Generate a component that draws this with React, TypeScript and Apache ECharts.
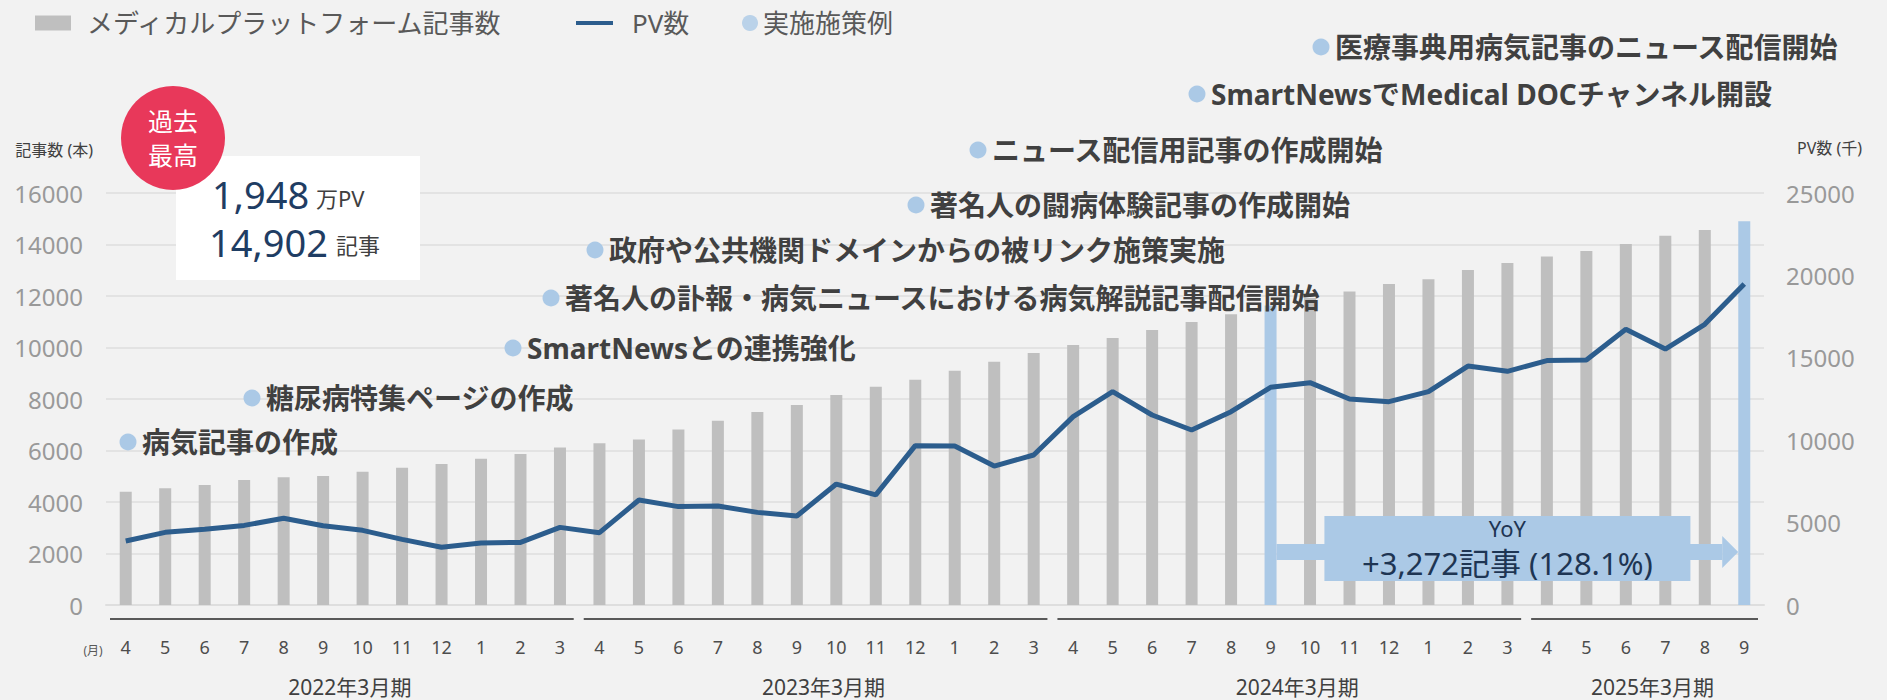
import React, { useEffect, useRef } from "react";
import * as echarts from "echarts";

// ---- data ----
const categories = [
  "2021-04", "2021-05", "2021-06", "2021-07", "2021-08", "2021-09", "2021-10", "2021-11", "2021-12", "2022-01", "2022-02", "2022-03",
  "2022-04", "2022-05", "2022-06", "2022-07", "2022-08", "2022-09", "2022-10", "2022-11", "2022-12", "2023-01", "2023-02", "2023-03",
  "2023-04", "2023-05", "2023-06", "2023-07", "2023-08", "2023-09", "2023-10", "2023-11", "2023-12", "2024-01", "2024-02", "2024-03",
  "2024-04", "2024-05", "2024-06", "2024-07", "2024-08", "2024-09",
];
const monthLabels = [
  "4", "5", "6", "7", "8", "9", "10", "11", "12", "1", "2", "3",
  "4", "5", "6", "7", "8", "9", "10", "11", "12", "1", "2", "3",
  "4", "5", "6", "7", "8", "9", "10", "11", "12", "1", "2", "3",
  "4", "5", "6", "7", "8", "9",
];
const articleCounts = [
  4400, 4530, 4660, 4850, 4960, 5010, 5170, 5330, 5480, 5680, 5860, 6120,
  6280, 6430, 6820, 7160, 7500, 7770, 8160, 8480, 8750, 9100, 9450, 9790,
  10100, 10370, 10680, 10990, 11290, 11630, 11920, 12170, 12470, 12650, 13010, 13280,
  13530, 13750, 14020, 14340, 14560, 14902,
];
const pageViews = [
  3880, 4410, 4590, 4830, 5260, 4810, 4530, 3980, 3500, 3760, 3800, 4710,
  4390, 6370, 5970, 6010, 5620, 5400, 7340, 6680, 9670, 9650, 8430, 9100,
  11430, 12950, 11530, 10620, 11730, 13210, 13490, 12500, 12340, 12950, 14500, 14180,
  14830, 14870, 16730, 15530, 17030, 19480,
];
const highlightIndices = [29, 41];
const fiscalYears = [
  { label: "2022年3月期", start: 0, end: 11 },
  { label: "2023年3月期", start: 12, end: 23 },
  { label: "2024年3月期", start: 24, end: 35 },
  { label: "2025年3月期", start: 36, end: 41 },
];
const milestones = [
  "病気記事の作成",
  "糖尿病特集ページの作成",
  "SmartNewsとの連携強化",
  "著名人の訃報・病気ニュースにおける病気解説記事配信開始",
  "政府や公共機関ドメインからの被リンク施策実施",
  "著名人の闘病体験記事の作成開始",
  "ニュース配信用記事の作成開始",
  "SmartNewsでMedical DOCチャンネル開設",
  "医療事典用病気記事のニュース配信開始",
];
const leftTicks = { min: 0, max: 16000, interval: 2000 };
const rightTicks = { min: 0, max: 25000, interval: 5000 };
const recordPV = "1,948";
const recordArticles = "14,902";
const yoyTitle = "YoY";
const yoyText = "+3,272記事 (128.1%)";

// ---- layout (pixels) ----
const milestonePos: [number, number][] = [
  [128, 442], [252, 398], [513, 348], [551, 298], [595, 250],
  [916, 205], [978, 150], [1197, 94], [1321, 47],
];

const FONT = "'Noto Sans', 'Noto Sans CJK JP', sans-serif";
const BAR_GREY = "#bfbfbf";
const LIGHT_BLUE = "#abc9e6";
const LINE_BLUE = "#2c5d8d";

export default function App() {
  const ref = useRef<HTMLDivElement>(null);
  useEffect(() => {
    document.body.style.margin = "0";
    document.body.style.background = "#f2f2f2";
    const chart = echarts.init(ref.current!, null, { renderer: "svg" });
    const option: any = {
      animation: false,
      backgroundColor: "#f2f2f2",
      textStyle: { fontFamily: FONT },
      grid: { left: 106, right: 123, top: 193, bottom: 95 },
      legend: [
        {
          data: ["メディカルプラットフォーム記事数"], left: 30, top: 5, itemWidth: 36, itemHeight: 15,
          icon: "rect", selectedMode: false,
          textStyle: { fontSize: 26, color: "#595959", fontFamily: FONT, padding: [0, 0, 0, 11] },
        },
        {
          data: ["PV数"], left: 571, top: 5, itemWidth: 37, itemHeight: 4,
          icon: "rect", selectedMode: false,
          textStyle: { fontSize: 26, color: "#595959", fontFamily: FONT, padding: [0, 0, 0, 14] },
        },
        {
          data: ["実施施策例"], left: 737, top: 5, itemWidth: 16, itemHeight: 16,
          icon: "circle", selectedMode: false,
          textStyle: { fontSize: 26, color: "#595959", fontFamily: FONT },
        },
      ],
      xAxis: {
        type: "category",
        data: categories,
        boundaryGap: true,
        axisTick: { show: false },
        axisLine: { show: true, lineStyle: { color: "#dedede", width: 2 } },
        axisLabel: {
          interval: 0, fontSize: 18, color: "#4d4d4d", margin: 33, fontFamily: FONT,
          formatter: (_v: string, i: number) => monthLabels[i],
        },
      },
      yAxis: [
        {
          type: "value", ...leftTicks,
          name: "記事数 (本)", nameLocation: "end", nameGap: 43,
          nameTextStyle: { fontSize: 16, color: "#404040", align: "right", verticalAlign: "middle", padding: [0, 13, 0, 0], fontFamily: FONT },
          axisLine: { show: false }, axisTick: { show: false },
          axisLabel: { fontSize: 24, color: "#999999", margin: 23, fontFamily: FONT, formatter: (v: number) => String(v) },
          splitLine: { lineStyle: { color: "#e3e3e3", width: 2 } },
        },
        {
          type: "value", ...rightTicks,
          name: "PV数 (千)", nameLocation: "end", nameGap: 45,
          nameTextStyle: { fontSize: 16, color: "#404040", align: "left", verticalAlign: "middle", padding: [0, 0, 0, 33], fontFamily: FONT },
          axisLine: { show: false }, axisTick: { show: false },
          axisLabel: { fontSize: 24, color: "#999999", margin: 22, fontFamily: FONT, formatter: (v: number) => String(v) },
          splitLine: { show: false },
        },
      ],
      series: [
        {
          name: "メディカルプラットフォーム記事数",
          type: "bar",
          yAxisIndex: 0,
          barWidth: 12,
          itemStyle: { color: BAR_GREY },
          data: articleCounts.map((v, i) =>
            highlightIndices.includes(i) ? { value: v, itemStyle: { color: LIGHT_BLUE } } : v
          ),
          z: 2,
        },
        {
          name: "PV数",
          type: "line",
          yAxisIndex: 1,
          data: pageViews,
          symbol: "none",
          lineStyle: { color: LINE_BLUE, width: 5 },
          itemStyle: { color: LINE_BLUE },
          z: 3,
        },
        {
          name: "実施施策例",
          type: "scatter",
          data: [],
          itemStyle: { color: LIGHT_BLUE },
        },
      ],
    };
    chart.setOption(option);

    const px = (i: number) => chart.convertToPixel({ xAxisIndex: 0 }, i) as number;
    const step = px(1) - px(0);
    const baseY = chart.convertToPixel({ yAxisIndex: 0 }, 0) as number;
    const els: any[] = [];

    // fiscal year group lines and labels
    fiscalYears.forEach((g) => {
      const x1 = px(g.start) - step / 2 + 4;
      const x2 = px(g.end) + step / 2 - 6;
      els.push({
        type: "line", shape: { x1, y1: baseY + 14, x2, y2: baseY + 14 },
        style: { stroke: "#595959", lineWidth: 2 }, silent: true,
      });
      els.push({
        type: "text", x: (x1 + x2) / 2 + 8, y: baseY + 82,
        style: { text: g.label, fontSize: 21, fill: "#404040", fontFamily: FONT, align: "center", verticalAlign: "middle" },
      });
    });
    els.push({
      type: "text", x: 93, y: baseY + 45,
      style: { text: "(月)", fontSize: 12, fill: "#595959", fontFamily: FONT, align: "center", verticalAlign: "middle" },
    });

    // milestone callouts
    milestones.forEach((m, k) => {
      const [cx, cy] = milestonePos[k];
      els.push({ type: "circle", shape: { cx, cy, r: 8.5 }, style: { fill: LIGHT_BLUE } });
      els.push({
        type: "text", x: cx + 14, y: cy,
        style: { text: m, fontSize: 28, fontWeight: "bold", fill: "#404040", fontFamily: FONT, align: "left", verticalAlign: "middle" },
      });
    });

    // record box
    els.push({ type: "rect", shape: { x: 176, y: 156, width: 244, height: 124 }, style: { fill: "#ffffff" } });
    els.push({ type: "text", x: 212, y: 194, style: { text: recordPV, fontSize: 38, fill: "#1f3d63", fontFamily: FONT, align: "left", verticalAlign: "middle" } });
    els.push({ type: "text", x: 316, y: 198, style: { text: "万PV", fontSize: 22, fill: "#404040", fontFamily: FONT, align: "left", verticalAlign: "middle" } });
    els.push({ type: "text", x: 209, y: 242, style: { text: recordArticles, fontSize: 38, fill: "#1f3d63", fontFamily: FONT, align: "left", verticalAlign: "middle" } });
    els.push({ type: "text", x: 336, y: 245, style: { text: "記事", fontSize: 22, fill: "#404040", fontFamily: FONT, align: "left", verticalAlign: "middle" } });
    els.push({ type: "circle", shape: { cx: 173, cy: 138, r: 52 }, style: { fill: "#e8385a" } });
    els.push({ type: "text", x: 173, y: 121, style: { text: "過去", fontSize: 25, fill: "#ffffff", fontFamily: FONT, align: "center", verticalAlign: "middle" } });
    els.push({ type: "text", x: 173, y: 155, style: { text: "最高", fontSize: 25, fill: "#ffffff", fontFamily: FONT, align: "center", verticalAlign: "middle" } });

    // YoY arrow between highlighted bars
    const xa = px(highlightIndices[0]) + 6;
    const tip = px(highlightIndices[1]) - 6;
    const ay = 552;
    els.push({ type: "rect", shape: { x: xa, y: ay - 8, width: tip - 16 - xa, height: 16 }, style: { fill: LIGHT_BLUE } });
    els.push({ type: "polygon", shape: { points: [[tip - 16, ay - 16], [tip, ay], [tip - 16, ay + 16]] }, style: { fill: LIGHT_BLUE } });
    const bx = (xa + tip) / 2;
    els.push({ type: "rect", shape: { x: bx - 183, y: 516, width: 366, height: 65 }, style: { fill: LIGHT_BLUE } });
    els.push({ type: "text", x: bx, y: 528, style: { text: yoyTitle, fontSize: 22, fill: "#1e3553", fontFamily: FONT, align: "center", verticalAlign: "middle" } });
    els.push({ type: "text", x: bx, y: 563, style: { text: yoyText, fontSize: 31, fill: "#1e3553", fontFamily: FONT, align: "center", verticalAlign: "middle" } });

    chart.setOption({ graphic: els.map((e) => ({ ...e, z: 10 })) });
    return () => chart.dispose();
  }, []);
  return <div ref={ref} style={{ width: 1887, height: 700 }} />;
}
